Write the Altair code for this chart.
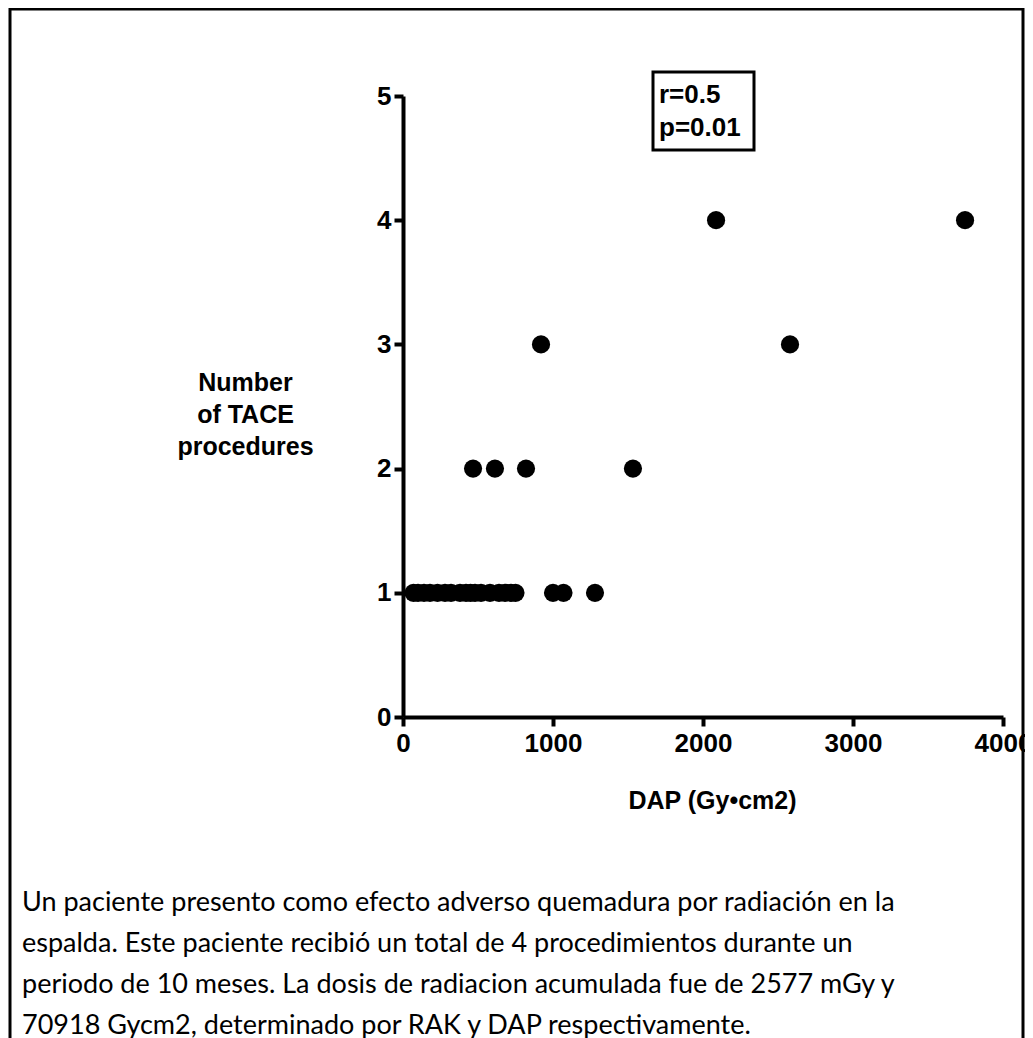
import altair as alt
import pandas as pd

# Data
dap = [70, 100, 140, 180, 230, 280, 320, 380, 420, 450, 480, 520, 580, 640, 680, 720, 750,
       1000, 1070, 1280,
       467, 613, 820, 1533,
       920, 2580,
       2087, 3747]
tace = [1] * 17 + [1, 1, 1] + [2, 2, 2, 2] + [3, 3] + [4, 4]

x_ticks = [0, 1000, 2000, 3000, 4000]
y_ticks = [0, 1, 2, 3, 4, 5]

stats_lines = ["r=0.5", "p=0.01"]
y_title = ["Number", "of TACE", "procedures"]
x_title = "DAP (Gy\u2022cm2)"
caption_lines = [
    "Un paciente presento como efecto adverso quemadura por radiación en la",
    "espalda. Este paciente recibió un total de 4 procedimientos durante un",
    "periodo de 10 meses. La dosis de radiacion acumulada fue de 2577 mGy y",
    "70918 Gycm2, determinado por RAK y DAP respectivamente.",
]

FONT = "Liberation Sans, Arial, sans-serif"

df = pd.DataFrame({"dap": dap, "tace": tace})
one = pd.DataFrame({"k": [0]})

W, H = 600, 621

points = alt.Chart(df).mark_circle(size=330, color="black", opacity=1).encode(
    x=alt.X("dap:Q",
            scale=alt.Scale(domain=[0, 4000], nice=False),
            axis=alt.Axis(values=x_ticks, title=x_title, format="d", labelFlush=False,
                          titleX=W / 2 + 9, titleY=83, titleBaseline="middle",
                          titleAnchor="middle")),
    y=alt.Y("tace:Q",
            scale=alt.Scale(domain=[0, 5], nice=False),
            axis=alt.Axis(values=y_ticks, title=y_title, format="d",
                          titleAngle=0, titleAlign="center", titleBaseline="top",
                          titleX=-158, titleY=274, titleLineHeight=32)),
)

box = alt.Chart(one).mark_rect(fill="white", stroke="black", strokeWidth=3, clip=False).encode(
    x=alt.value(250), x2=alt.value(351), y=alt.value(-24), y2=alt.value(54)
)

stats = alt.Chart(one).mark_text(
    text=stats_lines, font=FONT, fontWeight="bold", fontSize=26, align="left",
    baseline="top", lineHeight=33, color="black", clip=False
).encode(x=alt.value(256), y=alt.value(-14))

caption = alt.Chart(one).mark_text(
    text=caption_lines, font="Lato, Open Sans, sans-serif", fontWeight="normal",
    fontSize=27, align="left",
    baseline="alphabetic", lineHeight=41, color="black", clip=False
).encode(x=alt.value(-381), y=alt.value(815))

border = alt.Chart(one).mark_rect(fill=None, stroke="black", strokeWidth=3, clip=False).encode(
    x=alt.value(-393), x2=alt.value(620), y=alt.value(-87), y2=alt.value(960)
)

chart = alt.layer(border, points, box, stats, caption).properties(
    width=W, height=H,
    autosize=alt.AutoSizeParams(type="none"),
    padding={"left": 395, "top": 88, "right": 22, "bottom": 321},
    background="white",
).configure_view(stroke=None).configure_axis(
    grid=False,
    domainColor="black", domainWidth=4,
    tickColor="black", tickWidth=4, tickSize=9,
    labelFont=FONT, labelFontWeight="bold", labelFontSize=26, labelColor="black",
    titleFont=FONT, titleFontWeight="bold", titleFontSize=25, titleColor="black",
).configure_axisX(labelPadding=4).configure_axisY(labelPadding=3)

chart.save("out.html", embed_options={"renderer": "svg", "actions": False})
